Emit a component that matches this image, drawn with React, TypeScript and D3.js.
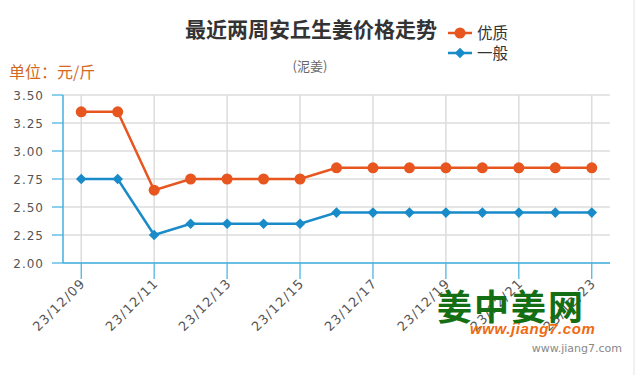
import React from "react";
import * as d3 from "d3";

const dates = ["23/12/09","23/12/10","23/12/11","23/12/12","23/12/13","23/12/14","23/12/15","23/12/16","23/12/17","23/12/18","23/12/19","23/12/20","23/12/21","23/12/22","23/12/23"];
const premium = [3.35,3.35,2.65,2.75,2.75,2.75,2.75,2.85,2.85,2.85,2.85,2.85,2.85,2.85,2.85];
const ordinary = [2.75,2.75,2.25,2.35,2.35,2.35,2.35,2.45,2.45,2.45,2.45,2.45,2.45,2.45,2.45];
const yTicks = [2.0,2.25,2.5,2.75,3.0,3.25,3.5];
const seriesNames = ["优质","一般"];
const title = "最近两周安丘生姜价格走势";
const subtitle = "(泥姜)";
const unit = "单位：元/斤";

const W = 635, H = 375;
const L = 63, R = 610, T = 95, B = 263;
const ORANGE = "#e8561f";
const BLUE = "#1a8bc9";
const AXIS = "#3fb0e0";
const GRID = "#dcdcdc";
const CJK = "'Noto Sans CJK SC', 'Noto Sans', sans-serif";
const NUM = "'DejaVu Sans', Verdana, sans-serif";

export default function App() {
  const x = d3.scalePoint<string>().domain(dates).range([L, R]).padding(0.5);
  const y = d3.scaleLinear().domain([2, 3.5]).range([B, T]);
  const line = d3.line<number>().x((_, i) => x(dates[i])!).y((d) => y(d));
  const labeled = dates.filter((_, i) => i % 2 === 0);
  const diamond = d3.symbol().type(d3.symbolSquare).size(56)()!;

  return (
    <svg width={W} height={H} style={{ position: "absolute", left: 0, top: 0, background: "#fff" }}>
      <line x1={634} x2={634} y1={0} y2={H} stroke="#e4e4e4" />
      {/* horizontal grid */}
      {yTicks.map((t) => (
        <g key={t}>
          <line x1={L} x2={R} y1={y(t)} y2={y(t)} stroke={GRID} strokeWidth={1.5} />
          <line x1={52} x2={L} y1={y(t)} y2={y(t)} stroke={AXIS} strokeWidth={1.2} />
          <text x={44} y={y(t) + 4.5} textAnchor="end" fontFamily={NUM} fontSize={12} letterSpacing={1} fill="#555">
            {t.toFixed(2)}
          </text>
        </g>
      ))}
      {/* vertical grid + x ticks */}
      {labeled.map((d) => (
        <g key={d}>
          <line x1={x(d)} x2={x(d)} y1={T} y2={B} stroke={GRID} strokeWidth={1.5} />
          <line x1={x(d)} x2={x(d)} y1={B} y2={B + 16} stroke={AXIS} strokeWidth={1.2} />
          <text
            transform={`translate(${x(d)! + 5},${B + 21}) rotate(-45)`}
            textAnchor="end"
            fontFamily={NUM}
            fontSize={13}
            letterSpacing={1.2}
            fill="#555"
          >
            {d}
          </text>
        </g>
      ))}
      <line x1={L} x2={L} y1={T} y2={B} stroke={AXIS} strokeWidth={1.5} />
      <line x1={L} x2={R} y1={B} y2={B} stroke={AXIS} strokeWidth={1.5} />

      {/* watermark */}
      <text x={437} y={320} fontFamily={CJK} fontWeight="bold" fontSize={35} fill="#136e14" letterSpacing={2}>
        姜中姜网
      </text>
      <text x={470} y={334} fontFamily="'Liberation Sans', Arial, sans-serif" fontWeight="bold" fontStyle="italic" fontSize={15} letterSpacing={0.6} fill="#f06a10">
        www.jiang7.com
      </text>
      <text x={622} y={352} textAnchor="end" fontFamily={NUM} fontSize={11} fill="#888">
        www.jiang7.com
      </text>

      {/* series */}
      <path d={line(premium)!} fill="none" stroke={ORANGE} strokeWidth={2.5} />
      <path d={line(ordinary)!} fill="none" stroke={BLUE} strokeWidth={2.5} />
      {premium.map((v, i) => (
        <circle key={i} cx={x(dates[i])} cy={y(v)} r={5.5} fill={ORANGE} />
      ))}
      {ordinary.map((v, i) => (
        <path key={i} d={diamond} transform={`translate(${x(dates[i])},${y(v)}) rotate(45)`} fill={BLUE} />
      ))}

      {/* titles */}
      <text x={311} y={37} textAnchor="middle" fontFamily={CJK} fontWeight="bold" fontSize={21} fill="#333">
        {title}
      </text>
      <text x={310} y={71} textAnchor="middle" fontFamily={CJK} fontSize={13} fill="#666">
        {subtitle}
      </text>
      <text x={9} y={78} fontFamily={CJK} fontSize={16} fill="#d2691e">
        {unit}
      </text>

      {/* legend */}
      <line x1={448} x2={472} y1={33} y2={33} stroke={ORANGE} strokeWidth={2.5} />
      <circle cx={460} cy={33} r={5.5} fill={ORANGE} />
      <text x={477} y={39} fontFamily={CJK} fontSize={15.5} fill="#333">{seriesNames[0]}</text>
      <line x1={448} x2={472} y1={53} y2={53} stroke={BLUE} strokeWidth={2.5} />
      <path d={diamond} transform="translate(460,53) rotate(45)" fill={BLUE} />
      <text x={477} y={59} fontFamily={CJK} fontSize={15.5} fill="#333">{seriesNames[1]}</text>
    </svg>
  );
}
